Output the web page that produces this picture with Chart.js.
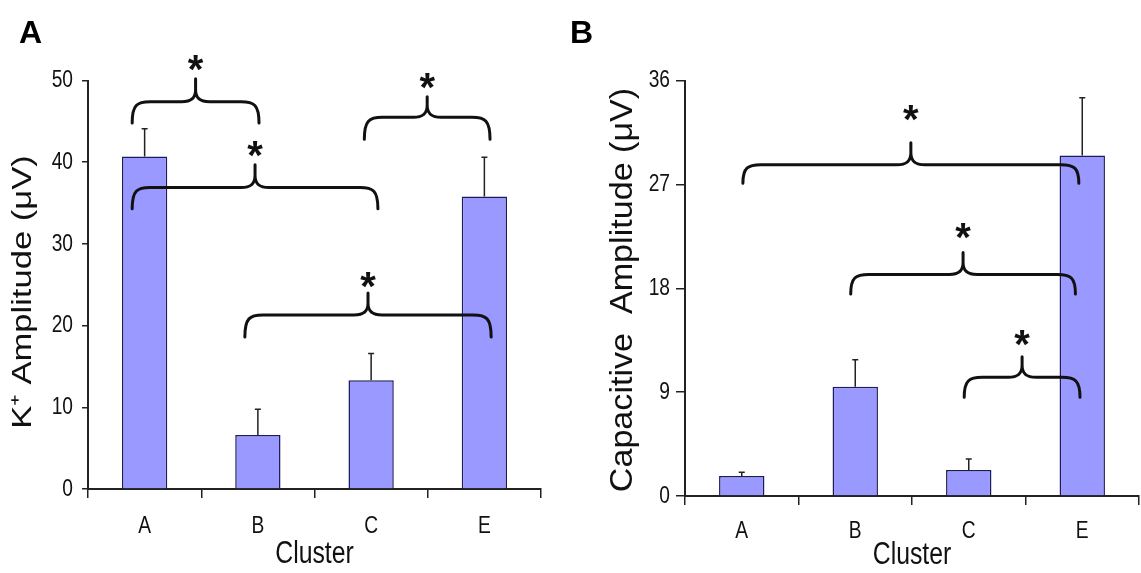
<!DOCTYPE html>
<html>
<head>
<meta charset="utf-8">
<script src="https://cdn.jsdelivr.net/npm/chart.js@4.4.1/dist/chart.umd.min.js"></script>
<style>
  html, body { margin: 0; padding: 0; background: #fff; }
  body { width: 1141px; height: 573px; position: relative; overflow: hidden; }
  canvas { position: absolute; top: 0; }
  .tag { position: absolute; font: bold 32px "Liberation Sans", Arial, sans-serif; line-height: 1; color: #000; }
</style>
</head>
<body>
<canvas id="chartK" width="570" height="573" style="left:0"></canvas>
<canvas id="chartCap" width="571" height="573" style="left:570px"></canvas>
<div class="tag" style="left:19px; top:16px;">A</div>
<div class="tag" style="left:570px; top:16px;">B</div>
<script>
// cluster means and upper error (SEM)
const clusters = ["A", "B", "C", "E"];
const kAmplitude = [40.7, 6.6, 13.3, 35.8];
const kError = [3.4, 3.15, 3.3, 4.8];
const capAmplitude = [1.73, 9.46, 2.25, 29.5];
const capError = [0.32, 2.34, 0.95, 5.0];
const kTicks = [0, 10, 20, 30, 40, 50];
const capTicks = [0, 9, 18, 27, 36];

// significance braces: [from idx, to idx, curl end, brace line, tip, asterisk] (data units)
const kBraces = [
    [-0.11, 1.01, 44.8, 47.4, 50.2, 52.1],
    [-0.11, 2.06, 34.3, 36.9, 39.7, 41.6],
    [1.94, 3.05, 42.8, 45.5, 48.0, 49.9],
    [0.885, 3.06, 18.6, 21.3, 24.0, 25.6],
];
const capBraces = [
    [0.01, 2.97, 27.1, 28.7, 30.6, 33.2],
    [0.96, 2.94, 17.5, 19.2, 21.1, 23.0],
    [1.96, 2.98, 8.55, 10.28, 12.06, 13.7],
];

const FONT = "'Liberation Sans', Arial, sans-serif";
const INK = "#111";

// the original figure is squeezed sideways, so text is drawn with a horizontal scale
function drawText(ctx, text, x, y, size, sx, align, rotate) {
    ctx.save();
    ctx.translate(x, y);
    if (rotate) ctx.rotate(-Math.PI / 2);
    ctx.scale(sx, 1);
    ctx.font = size + "px " + FONT;
    ctx.fillStyle = INK;
    ctx.textAlign = align;
    ctx.textBaseline = "middle";
    ctx.fillText(text, 0, 0);
    ctx.restore();
}

// error bars drawn upward only
const errorBars = {
    id: "errorBars",
    afterDatasetsDraw(chart) {
        const { ctx } = chart;
        const y = chart.scales.y;
        const ds = chart.data.datasets[0];
        ctx.save();
        ctx.strokeStyle = "#222";
        ctx.lineWidth = 1.5;
        chart.getDatasetMeta(0).data.forEach((bar, i) => {
            const top = y.getPixelForValue(ds.data[i] + ds.errors[i]);
            ctx.beginPath();
            ctx.moveTo(bar.x, bar.y);
            ctx.lineTo(bar.x, top);
            ctx.moveTo(bar.x - 3, top);
            ctx.lineTo(bar.x + 3, top);
            ctx.stroke();
        });
        ctx.restore();
    },
};

function labelPlugin(cfg) {
    return {
        id: "labels",
        afterDraw(chart) {
            const { ctx } = chart;
            const xs = chart.scales.x, ys = chart.scales.y;
            ys.ticks.forEach((t) => {
                drawText(ctx, String(t.value), ys.right - cfg.yTick - cfg.yPad, ys.getPixelForValue(t.value), 24, 0.8, "right");
            });
            xs.ticks.forEach((t, i) => {
                drawText(ctx, clusters[i], xs.getPixelForTick(i), cfg.xLabelY, 24, 0.8, "center");
            });
            drawText(ctx, "Cluster", (xs.left + xs.right) / 2, cfg.clusterY, 31, 0.8, "center");
            drawText(ctx, cfg.title, cfg.tx, cfg.ty, cfg.tSize, cfg.tStretch, "center", true);
        },
    };
}

function bracePlugin(braces) {
    return {
        id: "braces",
        afterDraw(chart) {
            const { ctx } = chart;
            const xs = chart.scales.x, ys = chart.scales.y;
            ctx.save();
            ctx.strokeStyle = INK;
            ctx.fillStyle = INK;
            ctx.lineWidth = 3;
            ctx.lineCap = "round";
            ctx.lineJoin = "round";
            ctx.font = "bold 40px " + FONT;
            ctx.textAlign = "center";
            braces.forEach(([a, b, e, l, t, s]) => {
                const x0 = xs.getPixelForValue(a), x1 = xs.getPixelForValue(b);
                const yE = ys.getPixelForValue(e), yL = ys.getPixelForValue(l);
                const yT = ys.getPixelForValue(t), yS = ys.getPixelForValue(s);
                const xm = (x0 + x1) / 2;
                ctx.beginPath();
                ctx.moveTo(x0, yE);
                ctx.bezierCurveTo(x0, yL + 3, x0 + 5, yL, x0 + 18, yL);
                ctx.lineTo(xm - 14, yL);
                ctx.bezierCurveTo(xm - 4, yL, xm, yL - 4, xm, yL - 12);
                ctx.lineTo(xm, yT);
                ctx.moveTo(xm, yL - 12);
                ctx.bezierCurveTo(xm, yL - 4, xm + 4, yL, xm + 14, yL);
                ctx.lineTo(x1 - 18, yL);
                ctx.bezierCurveTo(x1 - 5, yL, x1, yL + 3, x1, yE);
                ctx.stroke();
                const m = ctx.measureText("*");
                const base = yS + (m.actualBoundingBoxAscent - m.actualBoundingBoxDescent) / 2;
                ctx.fillText("*", xm, base);
            });
            ctx.restore();
        },
    };
}

function makeChart(id, values, errors, ticks, braces, cfg) {
    new Chart(document.getElementById(id), {
        type: "bar",
        data: {
            labels: clusters,
            datasets: [{
                data: values,
                errors: errors,
                backgroundColor: "#9999ff",
                borderColor: "#1c1c5a",
                borderWidth: 1.5,
                borderSkipped: "bottom",
                barPercentage: 0.4,
                categoryPercentage: 1,
            }],
        },
        options: {
            responsive: false,
            animation: false,
            layout: { padding: { top: 80.5, right: cfg.padRight, left: 0, bottom: 0 } },
            plugins: { legend: { display: false }, tooltip: { enabled: false } },
            scales: {
                x: {
                    grid: { drawOnChartArea: false, tickLength: 9, color: "#222", lineWidth: 1.5 },
                    border: { color: "#222", width: 2 },
                    ticks: { display: false },
                    afterFit: (s) => { s.height = cfg.xHeight; },
                },
                y: {
                    min: 0,
                    max: ticks[ticks.length - 1],
                    afterBuildTicks: (s) => { s.ticks = ticks.map((v) => ({ value: v })); },
                    grid: { drawOnChartArea: false, tickLength: cfg.yTick, color: "#222", lineWidth: 1.5 },
                    border: { color: "#222", width: 2 },
                    ticks: { display: false },
                    afterFit: (s) => { s.width = cfg.yWidth; },
                },
            },
        },
        plugins: [errorBars, bracePlugin(braces), labelPlugin(cfg)],
    });
}

makeChart("chartK", kAmplitude, kError, kTicks, kBraces, {
    padRight: 29, xHeight: 84, yWidth: 88, yTick: 6, yPad: 9, xLabelY: 526, clusterY: 554,
    title: "K\u207A Amplitude (\u03BCV)", tx: 24, ty: 292, tSize: 27, tStretch: 1.28,
});
makeChart("chartCap", capAmplitude, capError, capTicks, capBraces, {
    padRight: 2, xHeight: 77, yWidth: 115, yTick: 9, yPad: 6, xLabelY: 531, clusterY: 555,
    title: "Capacitive  Amplitude (\u03BCV)", tx: 53, ty: 290, tSize: 31, tStretch: 1.1,
});
</script>
</body>
</html>
